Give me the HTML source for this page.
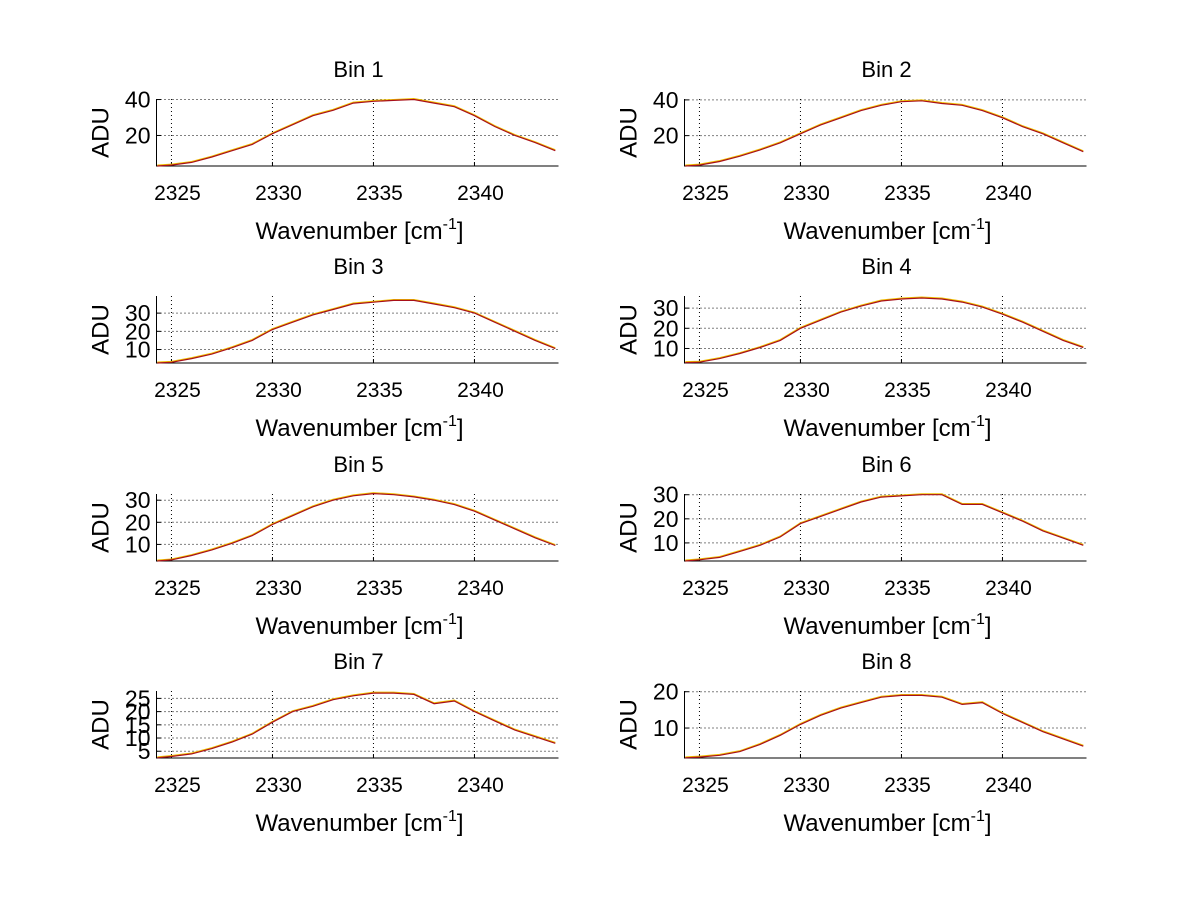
<!DOCTYPE html>
<html><head><meta charset="utf-8"><style>
html,body{margin:0;padding:0;background:#fff;}
svg text{font-family:"Liberation Sans",sans-serif;fill:#000;}
</style></head><body>
<svg id="fig" width="1200" height="901" xmlns="http://www.w3.org/2000/svg"></svg>
<script>
const wavenumbers=[2324.3,2325,2326,2327,2328,2329,2330,2331,2332,2333,2334,2335,2336,2337,2338,2339,2340,2341,2342,2343,2344];
const xTicks=[2325,2330,2335,2340];
const bin1=[3,3.5,5,8,11.5,15,21,26,31,34,38,39,39.5,40,38,36,31,25,20,16,11.5];
const bin2=[3,3.5,5.5,8.5,12,16,21,26,30,34,37,39,39.5,38,37,34,30,25,21,16,11];
const bin3=[2.6,3,5,7.5,11,15,21,25,29,32,35,36,37,37,35,33,30,25,20,15,10.5];
const bin4=[3,3.2,5,7.5,10.5,14,20,24,28,31,33.5,34.5,35,34.5,33,30.5,27,23,18.5,14,10.5];
const bin5=[2.5,3,5,7.5,10.5,14,19,23,27,30,32,33,32.5,31.5,30,28,25,21,17,13,9.5];
const bin6=[2.5,3,4,6.5,9,12.5,18,21,24,27,29,29.5,30,30,26,26,22.5,19,15,12,9];
const bin7=[2.5,3,4,6,8.5,11.5,16,20,22,24.5,26,27,27,26.5,23,24,20,16.5,13,10.5,8];
const bin8=[1.8,2,2.5,3.5,5.5,8,11,13.5,15.5,17,18.5,19,19,18.5,16.5,17,14,11.5,9,7,5];
const binSeries=[bin1,bin2,bin3,bin4,bin5,bin6,bin7,bin8];
const yLimits=[[3,40.3],[3,40.5],[2.6,39.4],[2.8,36],[2.5,32.8],[2.5,30.3],[2.44,27.8],[1.75,20.2]];
const yTicks=[[20,40],[20,40],[10,20,30],[10,20,30],[10,20,30],[10,20,30],[5,10,15,20,25],[10,20]];
const binTitles=["Bin 1","Bin 2","Bin 3","Bin 4","Bin 5","Bin 6","Bin 7","Bin 8"];

const NS="http://www.w3.org/2000/svg";
const svg=document.getElementById('fig');
function mk(tag,attrs,parent){const e=document.createElementNS(NS,tag);for(const k in attrs)e.setAttribute(k,attrs[k]);parent.appendChild(e);return e;}
const colLeft=[156.5,684.5],axW=402,rowTop=[99,296,494,691],axH=67;
const xMin=2324.26,xMax=2344.16;

for(let i=0;i<8;i++){
  const c=i%2,r=Math.floor(i/2);
  const L=colLeft[c],T=rowTop[r],B=T+axH,R=L+axW;
  const [y0,y1]=yLimits[i];
  const sx=v=>L+(v-xMin)/(xMax-xMin)*axW;
  const sy=v=>B-(v-y0)/(y1-y0)*axH;
  const g=mk('g',{},svg);
  
  
  xTicks.forEach(t=>{const l=mk('line',{x1:sx(t),x2:sx(t),y1:T,y2:B,stroke:'#000','stroke-width':1,'stroke-dasharray':'1,3'},g);
    
    mk('line',{x1:sx(t),x2:sx(t),y1:B,y2:B-4,stroke:'#000'},g);
    const tx=mk('text',{x:sx(t)+6,y:B+34,'font-size':21,'text-anchor':'middle'},g);tx.textContent=t;
    });
  yTicks[i].forEach(t=>{const l=mk('line',{x1:L,x2:R,y1:sy(t),y2:sy(t),stroke:'#000','stroke-width':1,'stroke-dasharray':'1,3'},g);
    
    mk('line',{x1:L,x2:L+4,y1:sy(t),y2:sy(t),stroke:'#000'},g);
    const tx=mk('text',{x:L-6,y:sy(t)+8,'font-size':23,'text-anchor':'end'},g);tx.textContent=t;
    });
  const ax=mk('path',{d:`M${L},${T}V${B}H${R}`,stroke:'#000','stroke-width':1,fill:'none'},g);
  
  const pts=wavenumbers.map((w,k)=>sx(w).toFixed(1)+','+sy(binSeries[i][k]).toFixed(1)).join(' ');
  const p2=mk('polyline',{points:pts,fill:'none',stroke:'#f0c000','stroke-width':1.5,transform:'translate(0,-0.7)'},g);
  
  const p=mk('polyline',{points:pts,fill:'none',stroke:'#a8101a','stroke-width':1.2},g);
  
  const ti=mk('text',{x:L+axW/2+1,y:T-22,'font-size':22,'text-anchor':'middle'},g);ti.textContent=binTitles[i];
  
  const yl=mk('text',{x:0,y:0,'font-size':24,'text-anchor':'middle',transform:`translate(${L-48},${T+axH/2}) rotate(-90)`},g);yl.textContent='ADU';
  
  const xl=mk('text',{x:L+axW/2+2,y:B+73,'font-size':24,'text-anchor':'middle'},g);
  xl.innerHTML='Wavenumber [cm<tspan dy="-10" font-size="16">-1</tspan><tspan dy="10">]</tspan>';
  
}
</script>
</body></html>
